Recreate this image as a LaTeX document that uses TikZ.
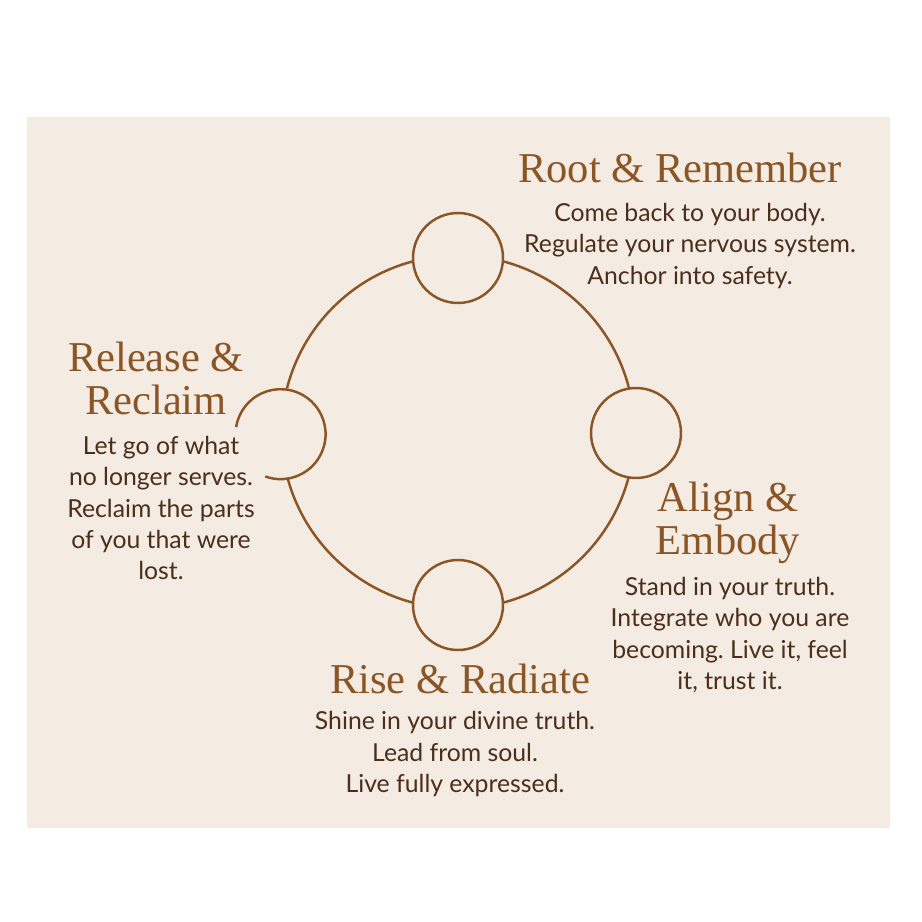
\documentclass[tikz,border=0pt]{standalone}
\usepackage{fontspec}
\setmainfont{Liberation Serif}
\newfontfamily\bodyfont{Lato}
\usepackage{tikz}
\frenchspacing

\definecolor{paper}{HTML}{F4EBE2}
\definecolor{rust}{HTML}{8B5526}
\definecolor{cocoa}{HTML}{4B2E1B}

\tikzset{
    ring/.style={circle, draw=rust, line width=1.4pt, fill=paper, minimum size=1.8cm, inner sep=0pt},
    hub/.style={circle, draw=rust, line width=1.4pt, minimum size=7.06cm, inner sep=0pt},
    heading/.style={text=rust, align=center, inner sep=0pt, font=\fontsize{24.2pt}{24.5pt}\selectfont},
    blurb/.style={text=cocoa, align=center, inner sep=0pt, font=\bodyfont\fontsize{14.1pt}{17.8pt}\selectfont}
}

\begin{document}
\begin{tikzpicture}[x=0.02cm, y=-0.02cm]
        \useasboundingbox (0,0) rectangle (922,922);
        \fill[paper] (27,117) rectangle (890,828);

        \node[hub] (cycle) at (458,432) {};

        \node[ring] (root) at (458,258) {};
        \node[ring] (align) at (636,433) {};
        \node[ring] (rise) at (458,605) {};
        \node[ring, draw=none] (release) at (281,433) {};
        \draw[rust, line width=1.4pt] (release.-110) arc[start angle=-110, end angle=171, radius=0.9cm];

        \node[heading] (hroot) at (680,168) {Root \& Remember};
        \node[blurb] (troot) at (690,246) {Come back to your body.\\ Regulate your nervous system.\\ Anchor into safety.};

        \node[heading] (hrelease) at (156,378) {Release \&\\Reclaim};
        \node[blurb] (trelease) at (161,508) {Let go of what\\ no longer serves.\\ Reclaim the parts\\ of you that were\\ lost.};

        \node[heading] (halign) at (728,523) {Align \&\\Embody};
        \node[blurb] (talign) at (730,635) {Stand in your truth.\\ Integrate who you are\\ becoming. Live it, feel\\ it, trust it.};

        \node[heading] (hrise) at (460,679) {Rise \& Radiate};
        \node[blurb] (trise) at (455,754) {Shine in your divine truth.\\ Lead from soul.\\ Live fully expressed.};
\end{tikzpicture}
\end{document}
